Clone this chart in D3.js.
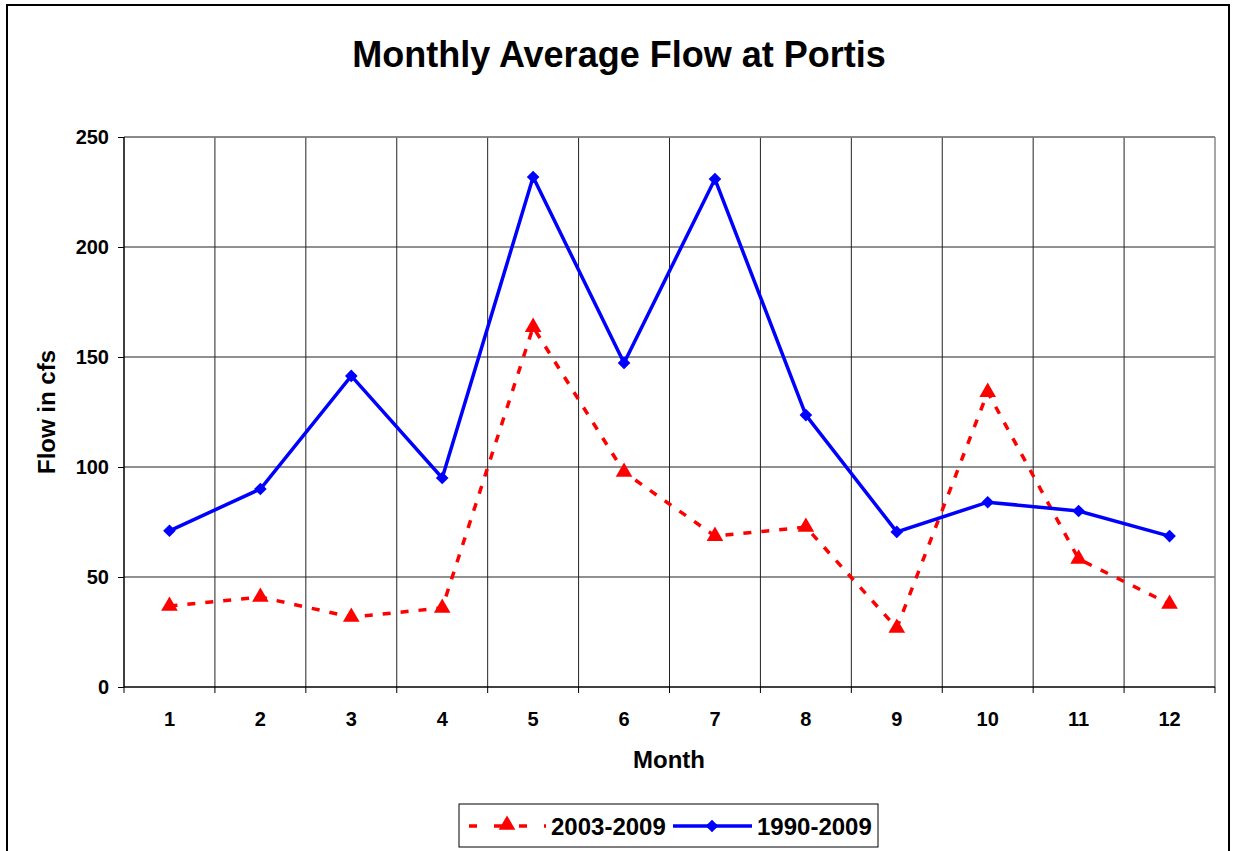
<!DOCTYPE html>
<html>
<head>
<meta charset="utf-8">
<script src="https://cdn.jsdelivr.net/npm/d3@7"></script>
<style>
  body { margin: 0; background: #fff; }
  text { font-family: Arial, "Liberation Sans", sans-serif; font-weight: bold; fill: #000; }
</style>
</head>
<body>
<div id="chart"></div>
<script>
// dados
const months = [1, 2, 3, 4, 5, 6, 7, 8, 9, 10, 11, 12];
const flow2003 = [36.8, 40.9, 31.8, 35.9, 163.6, 97.7, 68.6, 72.7, 26.8, 134, 58.2, 37.7];
const flow1990 = [71, 90, 141.4, 95, 231.8, 147.3, 230.9, 123.6, 70.5, 84, 80, 68.6];
const yTicks = [0, 50, 100, 150, 200, 250];

const W = 1235, H = 851;
const m = { left: 124, right: 1215, top: 137, bottom: 687 };

const svg = d3.select("#chart").append("svg")
    .attr("width", W).attr("height", H);

// moldura externa
svg.append("rect")
    .attr("x", 7).attr("y", 5).attr("width", 1222).attr("height", 860)
    .attr("fill", "#fff").attr("stroke", "#000").attr("stroke-width", 2);

const x = d3.scaleBand().domain(months).range([m.left, m.right]);
const y = d3.scaleLinear().domain([0, 250]).range([m.bottom, m.top]);

// grade horizontal
svg.append("g").selectAll("line")
    .data(yTicks.filter(d => d > 0))
    .join("line")
    .attr("x1", m.left).attr("x2", m.right)
    .attr("y1", d => y(d)).attr("y2", d => y(d))
    .attr("stroke", "#222").attr("stroke-width", 1);

// grade vertical
svg.append("g").selectAll("line")
    .data(months.slice(1))
    .join("line")
    .attr("x1", d => x(d)).attr("x2", d => x(d))
    .attr("y1", m.top).attr("y2", m.bottom)
    .attr("stroke", "#222").attr("stroke-width", 1);

// borda da area do grafico
svg.append("line")
    .attr("x1", m.right).attr("x2", m.right).attr("y1", m.top).attr("y2", m.bottom)
    .attr("stroke", "#888").attr("stroke-width", 1.5);
svg.append("line")
    .attr("x1", m.left).attr("x2", m.right).attr("y1", m.top).attr("y2", m.top)
    .attr("stroke", "#888").attr("stroke-width", 1.5);

// eixo y
const yAxis = svg.append("g")
    .attr("transform", `translate(${m.left},0)`)
    .call(d3.axisLeft(y).tickValues(yTicks).tickSize(6).tickPadding(9));
yAxis.select(".domain").attr("stroke", "#000").attr("stroke-width", 1.5).attr("d", `M0,${m.top}V${m.bottom}`);
yAxis.selectAll(".tick line").attr("stroke", "#000");
yAxis.attr("font-family", null).attr("font-size", null);
yAxis.selectAll("text").style("font-size", "20px");

// eixo x com ticks nas divisas
const xAxis = svg.append("g").attr("transform", `translate(0,${m.bottom})`);
xAxis.append("line")
    .attr("x1", m.left).attr("x2", m.right)
    .attr("stroke", "#000").attr("stroke-width", 1.5);
xAxis.selectAll("line.tk")
    .data(months.concat([13]))
    .join("line").attr("class", "tk")
    .attr("x1", d => d === 13 ? m.right : x(d))
    .attr("x2", d => d === 13 ? m.right : x(d))
    .attr("y1", 0).attr("y2", 6)
    .attr("stroke", "#000");
xAxis.selectAll("text")
    .data(months)
    .join("text")
    .attr("x", d => x(d) + x.bandwidth() / 2)
    .attr("y", 39)
    .attr("text-anchor", "middle")
    .style("font-size", "20px")
    .text(d => d);

// titulos
svg.append("text").attr("x", 619).attr("y", 67).attr("text-anchor", "middle")
    .style("font-size", "36px").text("Monthly Average Flow at Portis");
svg.append("text").attr("x", 669).attr("y", 768).attr("text-anchor", "middle")
    .style("font-size", "24px").text("Month");
svg.append("text").attr("transform", "translate(55,412) rotate(-90)").attr("text-anchor", "middle")
    .style("font-size", "24px").text("Flow in cfs");

const cx = d => x(d) + x.bandwidth() / 2;
const line = d3.line().x(d => cx(d[0])).y(d => y(d[1]));

const tri = d3.symbol().type(d3.symbolTriangle).size(120);
const dia = d3.symbol().type(d3.symbolSquare).size(80);

// serie 2003-2009
const s1 = months.map((mo, i) => [mo, flow2003[i]]);
svg.append("path").datum(s1)
    .attr("d", line).attr("fill", "none")
    .attr("stroke", "#f00").attr("stroke-width", 3.5).attr("stroke-dasharray", "8,10");
svg.append("g").selectAll("path").data(s1).join("path")
    .attr("d", tri)
    .attr("transform", d => `translate(${cx(d[0])},${y(d[1])})`)
    .attr("fill", "#f00");

// serie 1990-2009
const s2 = months.map((mo, i) => [mo, flow1990[i]]);
svg.append("path").datum(s2)
    .attr("d", line).attr("fill", "none")
    .attr("stroke", "#00f").attr("stroke-width", 3.5);
svg.append("g").selectAll("path").data(s2).join("path")
    .attr("d", dia)
    .attr("transform", d => `translate(${cx(d[0])},${y(d[1])}) rotate(45)`)
    .attr("fill", "#00f");

// legenda
const lg = svg.append("g");
lg.append("rect").attr("x", 459).attr("y", 804).attr("width", 419).attr("height", 43)
    .attr("fill", "#fff").attr("stroke", "#000").attr("stroke-width", 1);
lg.append("line").attr("x1", 469).attr("x2", 546).attr("y1", 826).attr("y2", 826)
    .attr("stroke", "#f00").attr("stroke-width", 3.5).attr("stroke-dasharray", "8,17");
lg.append("path").attr("d", tri).attr("transform", "translate(507,825)").attr("fill", "#f00");
lg.append("text").attr("x", 551).attr("y", 835).style("font-size", "24px").text("2003-2009");
lg.append("line").attr("x1", 673).attr("x2", 752).attr("y1", 826).attr("y2", 826)
    .attr("stroke", "#00f").attr("stroke-width", 3.5);
lg.append("path").attr("d", dia).attr("transform", "translate(712,826) rotate(45)").attr("fill", "#00f");
lg.append("text").attr("x", 757).attr("y", 835).style("font-size", "24px").text("1990-2009");
</script>
</body>
</html>
